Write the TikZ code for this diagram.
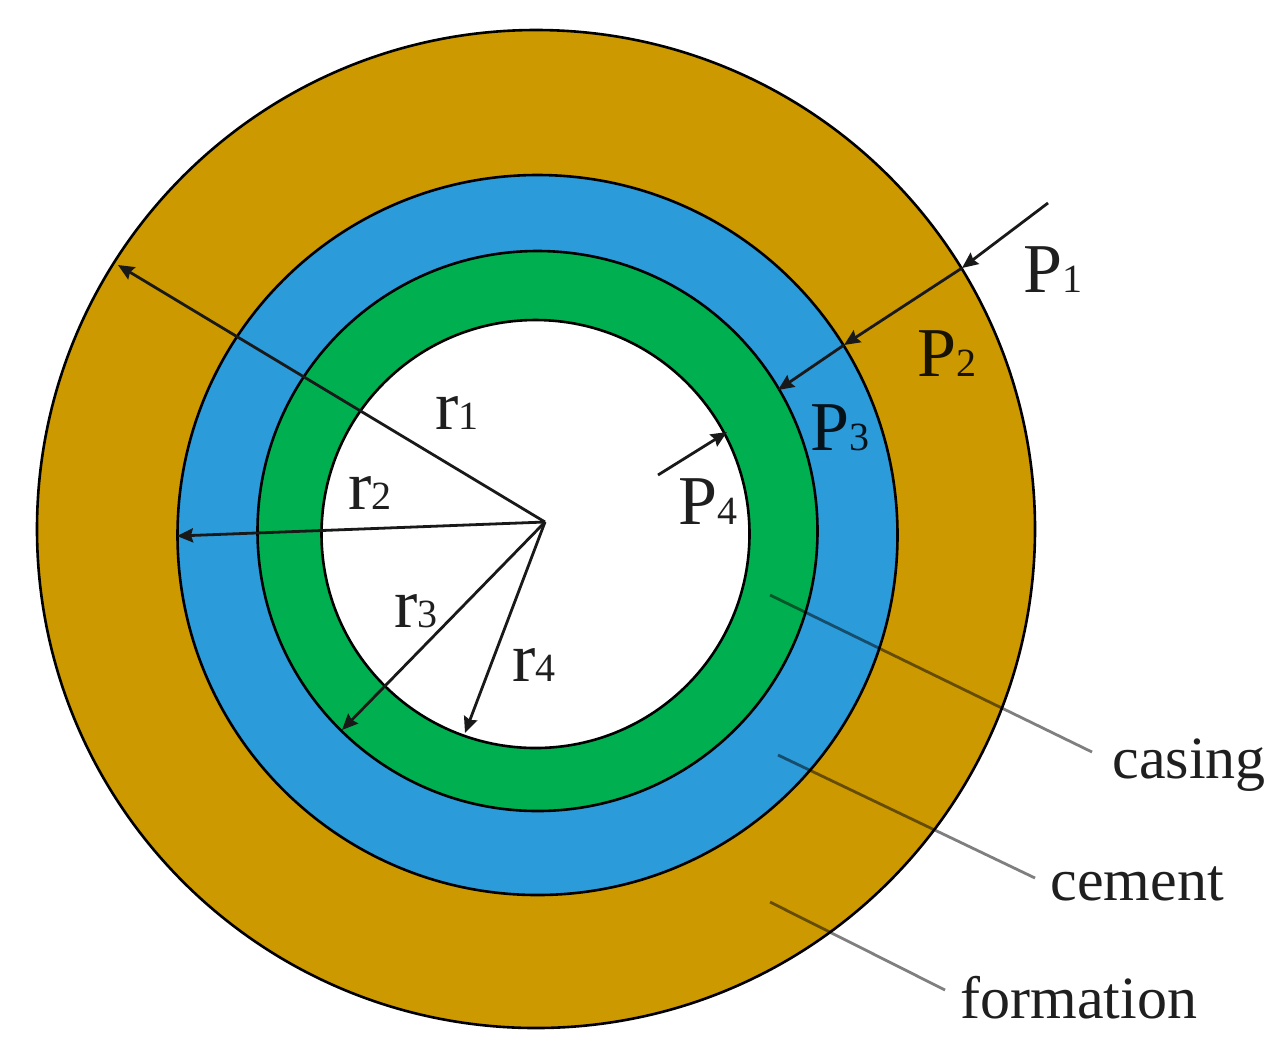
\documentclass[tikz,border=0pt]{standalone}
\usepackage{fontspec}
\setmainfont{Liberation Serif}
\usepackage{tikz}
\usetikzlibrary{arrows.meta}
\newcommand{\symlabel}[2]{{\fontsize{35pt}{35pt}\selectfont #1}{\fontsize{20pt}{20pt}\selectfont #2}}
\tikzstyle{ringbox}=[circle,draw=black,line width=1.3pt,inner sep=0pt,outer sep=0pt]
\tikzstyle{textbox}=[inner sep=0pt,anchor=base west,text=black,text opacity=0.88]
\tikzstyle{namebox}=[textbox,font=\fontsize{30pt}{30pt}\selectfont]
\tikzstyle{edgepath}=[-{Stealth[length=8pt,width=7pt,inset=1pt]},line width=1.4pt,black!90]
\tikzstyle{leaderpath}=[line width=1.4pt,black,opacity=0.5]
\definecolor{formationcolor}{HTML}{CC9900}
\definecolor{cementcolor}{HTML}{2B9BDA}
\definecolor{casingcolor}{HTML}{00B050}

\begin{document}
\begin{tikzpicture}[x=0.5pt,y=-0.5pt]
    \useasboundingbox (0,0) rectangle (1283,1062);

    \node[ringbox, fill=formationcolor, minimum size=499pt] (formation) at (536,529) {};
    \node[ringbox, fill=cementcolor, minimum size=360pt] (cement) at (537.5,535) {};
    \node[ringbox, fill=casingcolor, minimum size=280pt] (casing) at (537.5,531) {};
    \node[ringbox, fill=white, minimum size=214pt] (bore) at (535.5,534) {};

    \coordinate (o) at (545,522);
    \coordinate (r1) at (118,265);
    \coordinate (r2) at (177,536);
    \coordinate (r3) at (342,730);
    \coordinate (r4) at (465,733);
    \coordinate (p0) at (1048,203);
    \coordinate (p1) at (962,268);
    \coordinate (p2) at (844,345);
    \coordinate (p3) at (778,390);
    \coordinate (p4s) at (658,475);
    \coordinate (p4) at (727,432);

    \path[edgepath]
        (o) edge node {} (r1)
        (o) edge node {} (r2)
        (o) edge node {} (r3)
        (o) edge node {} (r4)
        (p0) edge node {} (p1)
        (p1) edge node {} (p2)
        (p2) edge node {} (p3)
        (p4s) edge node {} (p4);

    \coordinate (a1) at (770,595);
    \coordinate (a2) at (1092,752);
    \coordinate (b1) at (778,755);
    \coordinate (b2) at (1035,878);
    \coordinate (c1) at (770,902);
    \coordinate (c2) at (945,990);

    \path[leaderpath]
        (a1) edge node {} (a2)
        (b1) edge node {} (b2)
        (c1) edge node {} (c2);

    \node[textbox] (lp1) at (1023,292) {\symlabel{P}{1}};
    \node[textbox] (lp2) at (917,376) {\symlabel{P}{2}};
    \node[textbox] (lp3) at (810,450) {\symlabel{P}{3}};
    \node[textbox] (lp4) at (678,524) {\symlabel{P}{4}};
    \node[textbox] (lr1) at (435,429) {\symlabel{r}{1}};
    \node[textbox] (lr2) at (348,509) {\symlabel{r}{2}};
    \node[textbox] (lr3) at (394,627) {\symlabel{r}{3}};
    \node[textbox] (lr4) at (512,681) {\symlabel{r}{4}};

    \node[namebox] (lcasing) at (1112,778) {casing};
    \node[namebox] (lcement) at (1050,900) {cement};
    \node[namebox] (lformation) at (960,1018) {formation};
\end{tikzpicture}
\end{document}
